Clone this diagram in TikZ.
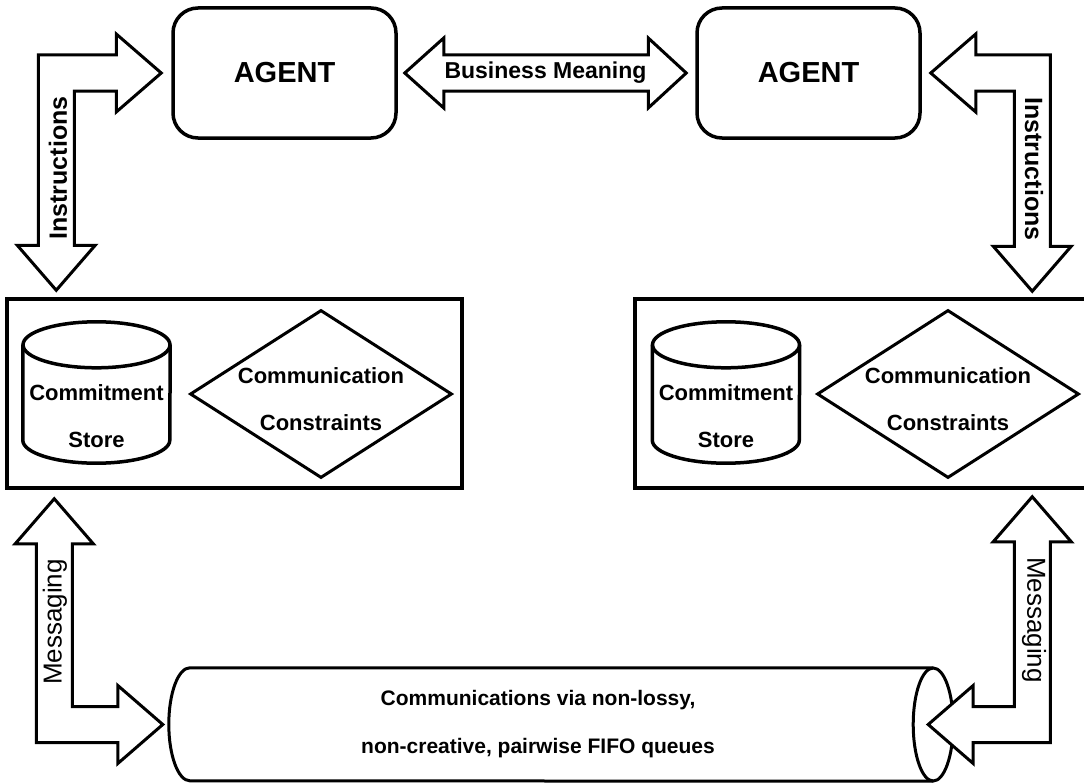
\documentclass[tikz,border=0pt]{standalone}
\usepackage{fontspec}
\setmainfont{Liberation Sans}
\usepackage{tikz}
\usetikzlibrary{calc,shapes.geometric}

% L-shaped block arrow: #1 tip on the horizontal leg, #2 tip on the vertical leg,
% #3 = +1/-1 (horizontal tip right/left of the corner), #4 = +1/-1 (vertical tip below/above)
\newcommand{\elbowarrow}[4]{%
  \pgfmathsetmacro\ebx{#3}\pgfmathsetmacro\eby{#4}%
  \draw[blockarrow] (#1) -- ++(-45*\ebx,-39*\eby) -- ++(0,21*\eby)
    -- ($(#2 |- #1)+(-18*\ebx,-18*\eby)$) -- ($(#2)+(-18*\ebx,-45*\eby)$) -- ++(-21*\ebx,0)
    -- (#2) -- ++(39*\ebx,-45*\eby) -- ++(-21*\ebx,0)
    -- ($(#2 |- #1)+(18*\ebx,18*\eby)$) -- ($(#1)+(-45*\ebx,18*\eby)$) -- ++(0,21*\eby) -- cycle;}

% upright drum drawn round a named node
\newcommand{\drum}[1]{%
  \draw[outline] ($(#1.north)+(0,23)$) ellipse[x radius=73.5, y radius=23];
  \draw[outline] ($(#1.north west)+(0,23)$) -- ($(#1.south west)+(0,-23)$)
    arc[start angle=180, end angle=0, x radius=73.5, y radius=23] -- ($(#1.north east)+(0,23)$);}

\begin{document}
\begin{tikzpicture}[x=1pt, y=-1pt,
  agent/.style={draw, line width=3.5pt, rounded corners=25pt, minimum width=223pt,
                minimum height=130pt, font=\fontsize{29}{34}\selectfont\bfseries},
  layer/.style={draw, line width=3.5pt, minimum height=189pt},
  outline/.style={draw, line width=3.5pt},
  store/.style={minimum width=147pt, minimum height=141pt, inner sep=0pt},
  rules/.style={draw, line width=3pt, diamond, minimum width=262pt, minimum height=168pt,
                inner sep=0pt},
  inlabel/.style={font=\fontsize{22}{47}\selectfont\bfseries, align=center},
  pipe/.style={minimum width=784pt, minimum height=113pt, inner sep=0pt},
  blockarrow/.style={draw, line width=3pt, fill=white, line join=miter},
  arrowtext/.style={font=\fontsize{25}{30}\selectfont\bfseries},
  msgtext/.style={font=\fontsize{26}{30}\selectfont},
]
\useasboundingbox (0,0) rectangle (1084,784);

% agents
\node[agent] (agentL) at (284.5,73) {AGENT};
\node[agent] (agentR) at (808.5,73) {AGENT};

% protocol layers
\node[layer, minimum width=455pt] (boxL) at (234.5,393.5) {};
\node[layer, minimum width=470pt] (boxR) at (870,393.5) {};
\node[store, label={[inlabel, yshift=-24pt]center:Commitment\\Store}] (storeL) at (96.5,392.5) {};
\node[rules, label={[inlabel, yshift=-5pt]center:Communication\\Constraints}] (consL) at (321,394) {};
\node[store, label={[inlabel, yshift=-24pt]center:Commitment\\Store}] (storeR) at (726,392.5) {};
\node[rules, label={[inlabel, yshift=-5pt]center:Communication\\Constraints}] (consR) at (948,394) {};
\drum{storeL}
\drum{storeR}

% queues
\node[pipe, label={[inlabel, font=\fontsize{21}{48}\selectfont\bfseries, xshift=-23pt]center:Communications via non-lossy,\\non-creative, pairwise FIFO queues}] (pipe) at (561,724.5) {};
\draw[outline, line width=3pt] ($(pipe.north east)+(-20,0)$) -- ($(pipe.north west)+(21,0)$)
  arc[start angle=270, end angle=90, x radius=21, y radius=56.5] -- ($(pipe.south east)+(-20,0)$);
\draw[outline, line width=3pt] ($(pipe.east)+(-20,0)$) ellipse[x radius=20, y radius=56.5];

% arrow tips
\coordinate (bmL) at ($(agentL.east)+(7,0)$);
\coordinate (bmR) at ($(agentR.west)+(-9,0)$);
\coordinate (insLa) at ($(agentL.west)+(-10,0)$);
\coordinate (insLb) at ($(boxL.north west)+(51,-7)$);
\coordinate (insRa) at ($(agentR.east)+(9,0)$);
\coordinate (insRb) at ($(boxR.north west)+(399,-6)$);
\coordinate (msgLa) at ($(pipe.west)+(-6,0)$);
\coordinate (msgLb) at ($(boxL.south west)+(49,9)$);
\coordinate (msgRa) at ($(pipe.east)+(-25,0)$);
\coordinate (msgRb) at ($(boxR.south west)+(399,7)$);

% business meaning
\draw[blockarrow] (bmL) -- ++(39,-35) -- ++(0,17) -- ($(bmR)+(-38,-18)$) -- ++(0,-17)
  -- (bmR) -- ++(-38,35) -- ++(0,-17) -- ($(bmL)+(39,18)$) -- ++(0,17) -- cycle;
\node[arrowtext, font=\fontsize{23}{28}\selectfont\bfseries] (bmtext) at ($(bmL)!0.5!(bmR)$) {Business Meaning};

% instructions and messaging
\elbowarrow{insLa}{insLb}{1}{1}
\elbowarrow{insRa}{insRb}{-1}{1}
\elbowarrow{msgLa}{msgLb}{1}{-1}
\elbowarrow{msgRa}{msgRb}{-1}{-1}
\node[arrowtext, rotate=90] (insLtext) at (58,168) {Instructions};
\node[arrowtext, rotate=-90] (insRtext) at (1034,169) {Instructions};
\node[msgtext, rotate=90] (msgLtext) at (55,622) {Messaging};
\node[msgtext, rotate=-90] (msgRtext) at (1034,620) {Messaging};

\end{tikzpicture}
\end{document}
